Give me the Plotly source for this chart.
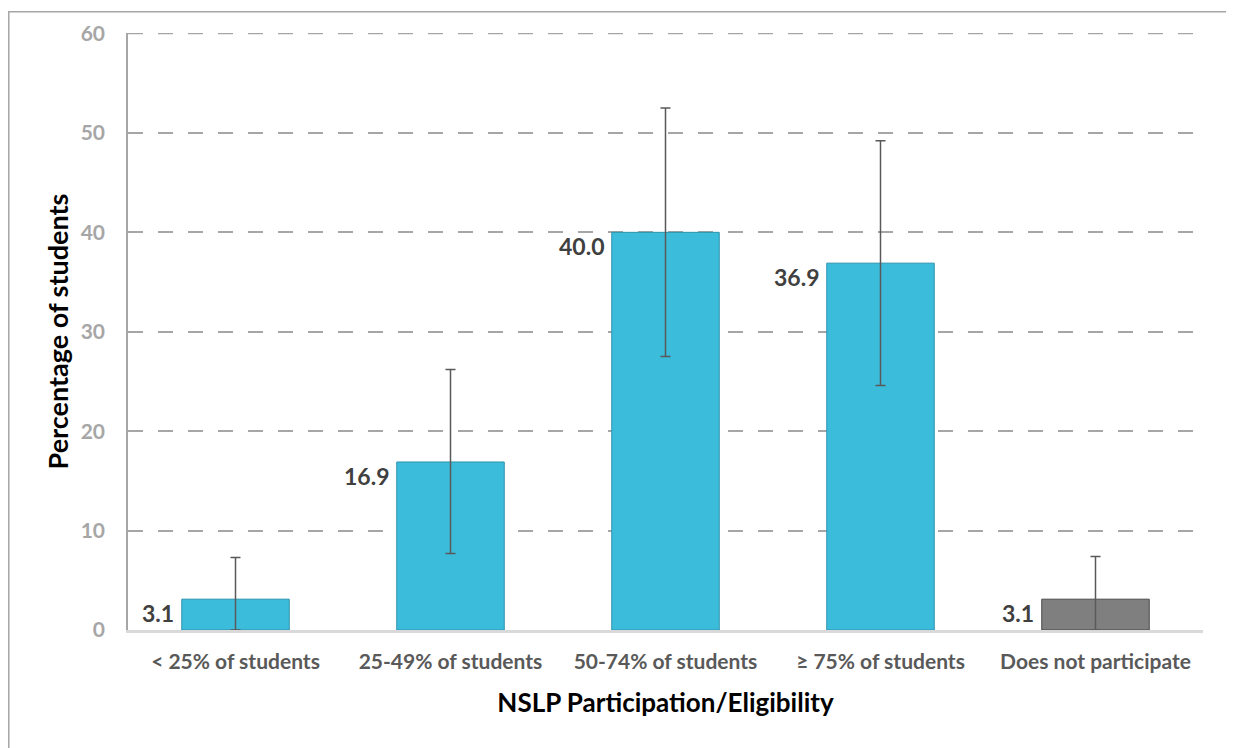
import plotly.graph_objects as go

categories = ["< 25% of students", "25-49% of students", "50-74% of students",
              "\u2265 75% of students", "Does not participate"]
values = [3.1, 16.9, 40.0, 36.9, 3.1]
err_plus = [4.2, 9.3, 12.5, 12.3, 4.3]
err_minus = [3.1, 9.2, 12.5, 12.3, 3.1]
colors = ["#3BBCDB", "#3BBCDB", "#3BBCDB", "#3BBCDB", "#7F7F7F"]
line_colors = ["#2C93AE", "#2C93AE", "#2C93AE", "#2C93AE", "#4A4A4A"]
y_ticks = [0, 10, 20, 30, 40, 50, 60]

FONT = "Lato"

fig = go.Figure()
fig.add_trace(go.Bar(
    x=categories, y=values,
    marker=dict(color=colors, line=dict(color=line_colors, width=1)),
    error_y=dict(type="data", symmetric=False, array=err_plus, arrayminus=err_minus,
                 color="#595959", thickness=1.5, width=5),
    hoverinfo="x+y",
))

for c, v in zip(categories, values):
    fig.add_annotation(x=c, y=v, text=f"{v:.1f}", showarrow=False,
                       xanchor="right", yanchor="top", xshift=-60, yshift=2,
                       font=dict(family=FONT, size=23, color="#404040", weight="bold"))

# top gridline (plotly hides gridlines lying on the plot edge)
fig.add_shape(type="line", xref="paper", yref="y", x0=0, x1=1,
              y0=y_ticks[-1], y1=y_ticks[-1], layer="below",
              line=dict(color="#A6A6A6", width=1.5, dash="longdash"))

fig.update_layout(
    width=1234, height=748,
    margin=dict(l=120, r=39, t=22, b=126),
    paper_bgcolor="white", plot_bgcolor="white",
    bargap=0.5, showlegend=False,
    font=dict(family=FONT),
)
fig.add_shape(type="rect", xref="paper", yref="paper", x0=-0.1109, x1=1.0251,
              y0=-0.4, y1=1.0354, line=dict(color="#A6A6A6", width=1.5))

fig.update_yaxes(
    range=[0, 60.05], tickvals=y_ticks, showgrid=True, gridcolor="#A6A6A6",
    griddash="longdash", gridwidth=1.5, zeroline=False,
    showline=True, linecolor="#A6A6A6", linewidth=1.5,
    tickfont=dict(family=FONT, size=21, color="#A6A6A6", weight="bold"),
    ticks="outside", ticklen=0, ticklabelstandoff=17,
    title=dict(text="Percentage of students", standoff=4,
               font=dict(family=FONT, size=27, color="black", weight="bold")),
)
fig.update_xaxes(
    showline=True, linecolor="#D9D9D9", linewidth=2.5,
    tickfont=dict(family=FONT, size=21, color="#595959", weight="bold"),
    ticklabelstandoff=11,
    title=dict(text="NSLP Participation/Eligibility", standoff=22,
               font=dict(family=FONT, size=26, color="black", weight="bold")),
)

fig.write_html("out.html")
